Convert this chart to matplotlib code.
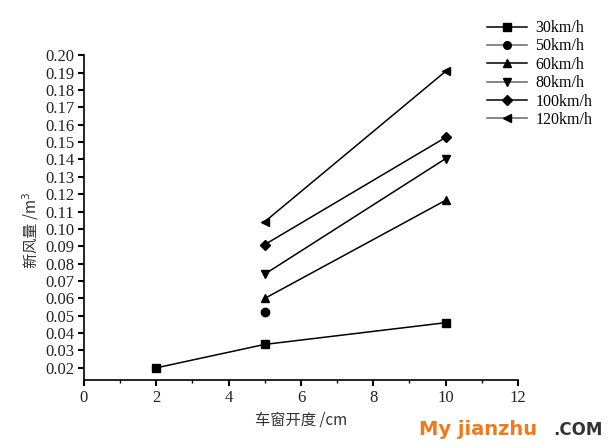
import matplotlib
matplotlib.use("Agg")
import matplotlib.pyplot as plt
from matplotlib.ticker import MultipleLocator

# opening (cm) vs fresh air volume (m^3) per vehicle speed
SPEEDS = ["30km/h", "50km/h", "60km/h", "80km/h", "100km/h", "120km/h"]
X_30 = [2, 5, 10]
Y_30 = [0.020, 0.0335, 0.046]
X_50 = [5]
Y_50 = [0.052]
X_60 = [5, 10]
Y_60 = [0.060, 0.1165]
X_80 = [5, 10]
Y_80 = [0.074, 0.1405]
X_100 = [5, 10]
Y_100 = [0.091, 0.1527]
X_120 = [5, 10]
Y_120 = [0.1042, 0.1908]

MARKERS = ["s", "o", "^", "v", "D", "<"]
LEGEND_COLORS = ["black", "#666666", "black", "#666666", "black", "#666666"]

plt.rcParams["font.family"] = ["Liberation Serif", "Noto Sans CJK SC"]
plt.rcParams["axes.unicode_minus"] = False

fig = plt.figure(figsize=(6.13, 4.46), dpi=100)
ax = fig.add_axes([0.137, 0.148, 0.708, 0.728])

series = [(X_30, Y_30), (X_50, Y_50), (X_60, Y_60), (X_80, Y_80), (X_100, Y_100), (X_120, Y_120)]
for (xs, ys), lab, mk in zip(series, SPEEDS, MARKERS):
    ms = 5 if mk == "D" else 6
    ax.plot(xs, ys, color="black", lw=1.1, marker=mk, ms=ms, label=lab)

ax.set_xlim(0, 12)
ax.set_ylim(0.013, 0.20)
ax.xaxis.set_major_locator(MultipleLocator(2))
ax.xaxis.set_minor_locator(MultipleLocator(1))
ax.set_yticks([v / 100 for v in range(2, 21)])
ax.set_yticklabels([f"{v / 100:.2f}" for v in range(2, 21)])
ax.tick_params(axis="both", which="major", direction="out", length=4, width=1.5,
               labelsize=12, labelcolor="#222222", pad=3)
ax.tick_params(axis="x", which="minor", direction="out", length=2.5, width=1)
for side in ("top", "right"):
    ax.spines[side].set_visible(False)
for side in ("left", "bottom"):
    ax.spines[side].set_linewidth(1.2)

ax.set_xlabel("车窗开度 /cm", fontsize=11, color="#333333", family=["Noto Sans CJK SC", "Liberation Serif"])
ax.set_ylabel("新风量 /m$^3$", fontsize=11, color="#333333", family=["Noto Sans CJK SC", "Liberation Serif"])
ax.yaxis.set_label_coords(-0.10, 0.46)

handles, labels = ax.get_legend_handles_labels()
leg = fig.legend(handles, labels, loc="upper left", bbox_to_anchor=(0.777, 0.98),
                 frameon=False, fontsize=11.5, handlelength=2.5, labelspacing=0.15,
                 handletextpad=0.5, borderpad=0.2)
for h, c in zip(leg.legend_handles, LEGEND_COLORS):
    h.set_color(c)
    h.set_markersize(5.5)
    h.set_markerfacecolor("black")
    h.set_markeredgecolor("black")

fig.text(0.683, 0.025, "My jianzhu", color="#f07a1a", fontsize=14, fontweight="bold",
         family="DejaVu Sans")
fig.text(0.903, 0.025, ".COM", color="#333333", fontsize=12, fontweight="bold",
         family="DejaVu Sans")

fig.savefig("out.png", dpi=100)
